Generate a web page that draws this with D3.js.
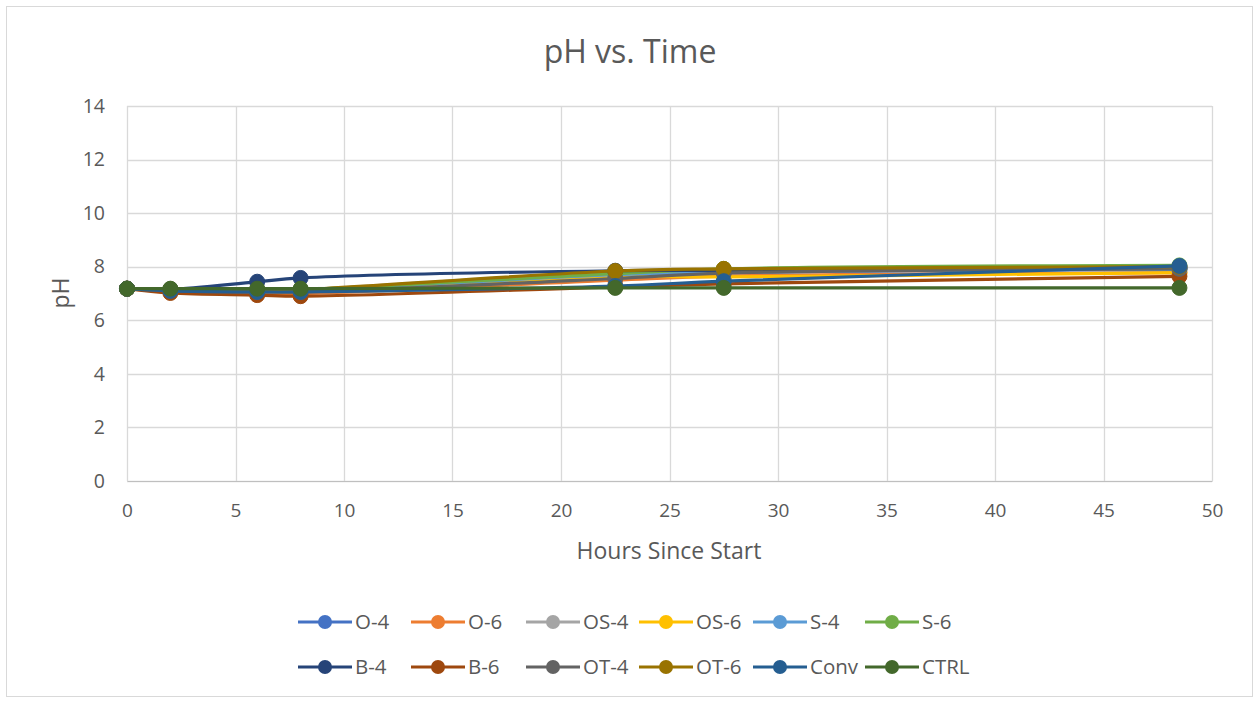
<!DOCTYPE html>
<html>
<head>
<meta charset="utf-8">
<script src="https://cdn.jsdelivr.net/npm/d3@7"></script>
<style>
  html, body { margin: 0; padding: 0; background: #ffffff; }
  svg { display: block; font-family: "Open Sans", sans-serif; }
</style>
</head>
<body>
<svg id="chart" width="1259" height="703"></svg>
<script>
// Sampling times (hours since start)
const hours = [0, 2, 6, 8, 22.5, 27.5, 48.5];

// pH readings per treatment
const seriesNames = ["O-4", "O-6", "OS-4", "OS-6", "S-4", "S-6", "B-4", "B-6", "OT-4", "OT-6", "Conv", "CTRL"];
const phO4   = [7.18, 7.14, 7.10, 7.10, 7.65, 7.78, 7.92];
const phO6   = [7.18, 7.08, 7.02, 7.00, 7.50, 7.65, 7.78];
const phOS4  = [7.18, 7.15, 7.14, 7.14, 7.82, 7.88, 7.98];
const phOS6  = [7.18, 7.12, 7.08, 7.08, 7.62, 7.62, 7.78];
const phS4   = [7.18, 7.15, 7.10, 7.12, 7.70, 7.80, 7.90];
const phS6   = [7.18, 7.16, 7.14, 7.15, 7.74, 7.92, 8.05];
const phB4   = [7.18, 7.15, 7.44, 7.58, 7.85, 7.86, 7.96];
const phB6   = [7.18, 7.02, 6.94, 6.90, 7.25, 7.36, 7.64];
const phOT4  = [7.18, 7.10, 7.06, 7.06, 7.56, 7.76, 7.92];
const phOT6  = [7.18, 7.15, 7.10, 7.14, 7.84, 7.92, 8.00];
const phConv = [7.18, 7.10, 7.06, 7.06, 7.28, 7.46, 8.03];
const phCTRL = [7.18, 7.18, 7.18, 7.18, 7.21, 7.21, 7.21];

const seriesValues = [phO4, phO6, phOS4, phOS6, phS4, phS6, phB4, phB6, phOT4, phOT6, phConv, phCTRL];
const seriesColors = ["#4472C4", "#ED7D31", "#A5A5A5", "#FFC000", "#5B9BD5", "#70AD47",
                      "#264478", "#9E480E", "#636363", "#997300", "#255E91", "#43682B"];

const xTicks = [0, 5, 10, 15, 20, 25, 30, 35, 40, 45, 50];
const yTicks = [0, 2, 4, 6, 8, 10, 12, 14];

const svg = d3.select("#chart");
const W = 1259, H = 703;
const textColor = "#595959";

// chart frame
svg.append("rect")
  .attr("x", 6.5).attr("y", 6.5)
  .attr("width", W - 13).attr("height", H - 13)
  .attr("fill", "#ffffff").attr("stroke", "#D9D9D9").attr("stroke-width", 1);

const plot = { left: 127, right: 1212, top: 106, bottom: 481 };

const x = d3.scaleLinear().domain([0, 50]).range([plot.left, plot.right]);
const y = d3.scaleLinear().domain([0, 14]).range([plot.bottom, plot.top]);

// horizontal gridlines
svg.append("g")
  .selectAll("line")
  .data(yTicks)
  .join("line")
  .attr("x1", plot.left).attr("x2", plot.right)
  .attr("y1", d => Math.round(y(d)) + 0.5).attr("y2", d => Math.round(y(d)) + 0.5)
  .attr("stroke", "#D9D9D9").attr("stroke-width", 1.3);

// vertical gridlines
svg.append("g")
  .selectAll("line")
  .data(xTicks)
  .join("line")
  .attr("y1", plot.top).attr("y2", plot.bottom)
  .attr("x1", d => Math.round(x(d)) + 0.5).attr("x2", d => Math.round(x(d)) + 0.5)
  .attr("stroke", "#D9D9D9").attr("stroke-width", 1.3);

// axes (labels only, Office style)
const xAxis = d3.axisBottom(x).tickValues(xTicks).tickSize(0).tickPadding(23);
const gx = svg.append("g").attr("transform", `translate(0,${plot.bottom})`).call(xAxis);
gx.select(".domain").attr("stroke", "#BFBFBF");
gx.selectAll("text").attr("fill", textColor).style("font-size", "19px").style("font-family", "'Open Sans', sans-serif");

const yAxis = d3.axisLeft(y).tickValues(yTicks).tickSize(0).tickPadding(22);
const gy = svg.append("g").attr("transform", `translate(${plot.left},0)`).call(yAxis);
gy.select(".domain").attr("stroke", "#D9D9D9");
gy.selectAll("text").attr("fill", textColor).style("font-size", "19.5px").style("font-family", "'Open Sans', sans-serif");

// titles
svg.append("text")
  .attr("x", 630).attr("y", 63)
  .attr("text-anchor", "middle")
  .attr("fill", textColor)
  .style("font-size", "32px")
  .text("pH vs. Time");

svg.append("text")
  .attr("x", 669).attr("y", 559)
  .attr("text-anchor", "middle")
  .attr("fill", textColor)
  .style("font-size", "23px")
  .text("Hours Since Start");

svg.append("text")
  .attr("transform", "translate(69,293) rotate(-90)")
  .attr("text-anchor", "middle")
  .attr("fill", textColor)
  .style("font-size", "23px")
  .text("pH");

// series lines and markers
const line = d3.line()
  .x(d => x(d[0]))
  .y(d => y(d[1]))
  .curve(d3.curveCatmullRom.alpha(0.5));

const seriesData = seriesNames.map((name, i) => ({
  name,
  color: seriesColors[i],
  points: hours.map((h, j) => [h, seriesValues[i][j]])
}));

const gSeries = svg.append("g");
seriesData.forEach(s => {
  const g = gSeries.append("g");
  g.append("path")
    .attr("d", line(s.points))
    .attr("fill", "none")
    .attr("stroke", s.color)
    .attr("stroke-width", 3.2)
    .attr("stroke-linejoin", "round");
  g.selectAll("circle")
    .data(s.points)
    .join("circle")
    .attr("cx", d => x(d[0]))
    .attr("cy", d => y(d[1]))
    .attr("r", 7.5)
    .attr("fill", s.color)
    .attr("stroke", s.color)
    .attr("stroke-width", 1);
});

// legend: two rows of six
const legendCols = [298, 411, 526, 639, 753, 865];
const legendRows = [622, 667];
const legend = svg.append("g");
seriesData.forEach((s, i) => {
  const lx = legendCols[i % 6];
  const ly = legendRows[Math.floor(i / 6)];
  const g = legend.append("g");
  g.append("line")
    .attr("x1", lx).attr("x2", lx + 54)
    .attr("y1", ly).attr("y2", ly)
    .attr("stroke", s.color).attr("stroke-width", 3.2);
  g.append("circle")
    .attr("cx", lx + 27).attr("cy", ly).attr("r", 7)
    .attr("fill", s.color);
  g.append("text")
    .attr("x", lx + 57).attr("y", ly)
    .attr("dy", "0.35em")
    .attr("fill", textColor)
    .style("font-size", "20.5px")
    .text(s.name);
});
</script>
</body>
</html>
